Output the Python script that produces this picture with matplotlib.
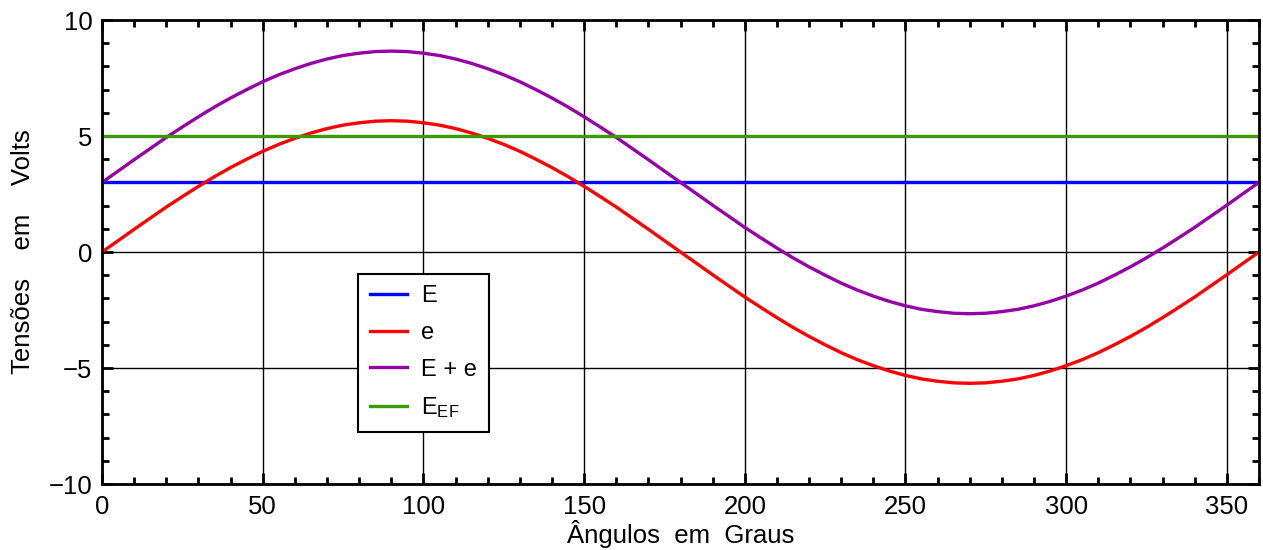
import numpy as np
import matplotlib
matplotlib.use("Agg")
import matplotlib.pyplot as plt
from matplotlib.ticker import MultipleLocator

plt.rcParams['font.family'] = ['Liberation Sans', 'DejaVu Sans']
plt.rcParams['mathtext.default'] = 'regular'

# angles in degrees, step 5
angulos = np.arange(0, 365, 5)
# e (peak ~5.66 V)
e = np.array([0.00, 0.49, 0.98, 1.46, 1.94, 2.39, 2.83, 3.25, 3.64, 4.00,
              4.34, 4.64, 4.90, 5.13, 5.32, 5.47, 5.57, 5.64, 5.66, 5.64,
              5.57, 5.47, 5.32, 5.13, 4.90, 4.64, 4.34, 4.00, 3.64, 3.25,
              2.83, 2.39, 1.94, 1.46, 0.98, 0.49, 0.00, -0.49, -0.98, -1.46,
              -1.94, -2.39, -2.83, -3.25, -3.64, -4.00, -4.34, -4.64, -4.90, -5.13,
              -5.32, -5.47, -5.57, -5.64, -5.66, -5.64, -5.57, -5.47, -5.32, -5.13,
              -4.90, -4.64, -4.34, -4.00, -3.64, -3.25, -2.83, -2.39, -1.94, -1.46,
              -0.98, -0.49, 0.00])
E = 3.0
E_EF = 5.0

fig = plt.figure(figsize=(12.63, 5.5), dpi=100)
ax = fig.add_axes([0.0808, 0.12, 0.916, 0.8436])

ax.plot(angulos, np.full_like(e, E), color='#0000ff', lw=2.4, label='E')
ax.plot(angulos, e, color='#ff0000', lw=2.4, label='e')
ax.plot(angulos, E + e, color='#9400a6', lw=2.4, label='E + e')
ax.plot(angulos, np.full_like(e, E_EF), color='#3a9a00', lw=2.4, label='$E_{EF}$')

ax.set_xlim(0, 360)
ax.set_ylim(-10, 10)
ax.xaxis.set_major_locator(MultipleLocator(50))
ax.xaxis.set_minor_locator(MultipleLocator(10))
ax.yaxis.set_major_locator(MultipleLocator(5))
ax.yaxis.set_minor_locator(MultipleLocator(1))
ax.grid(True, which='major', color='black', lw=1.0)
ax.tick_params(which='both', direction='in', top=True, right=True,
               width=2, labelsize=18.5)
ax.tick_params(axis='x', pad=8)
ax.tick_params(axis='y', pad=7)
ax.tick_params(which='major', length=8)
ax.tick_params(which='minor', length=5)
for s in ax.spines.values():
    s.set_linewidth(2)

ax.set_xlabel('Ângulos  em  Graus', fontsize=18.5, labelpad=1)
ax.set_ylabel('Tensões    em    Volts', fontsize=18.5, labelpad=10)

leg = ax.legend(loc='lower left', bbox_to_anchor=(0.221, 0.112), fontsize=17,
                fancybox=False, framealpha=1, edgecolor='black',
                handlelength=1.6, handletextpad=0.6, borderpad=0.5,
                labelspacing=0.62, borderaxespad=0)
leg.get_frame().set_linewidth(1.5)

fig.savefig('out.png', dpi=100)
